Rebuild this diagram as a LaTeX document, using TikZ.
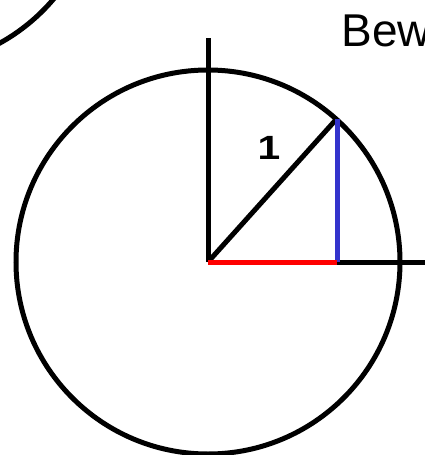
\documentclass[tikz,border=0pt]{standalone}
\usepackage{fontspec}
\setmainfont{Liberation Sans}
\definecolor{myblue}{RGB}{51,51,204}
\begin{document}
\begin{tikzpicture}[x=1pt,y=-1pt,line width=5pt,
  axisline/.style={draw=black},
  lbl/.style={inner sep=0pt,text=black}]
\useasboundingbox (0,0) rectangle (425,455);
\clip (0,0) rectangle (425,455);
\fill[white] (0,0) rectangle (425,455);
\coordinate (O) at (208,262);
\coordinate (P) at (337,118.5);
\coordinate (Q) at (337,262);
\coordinate (T) at (208,38);
\coordinate (R) at (432,262);
\coordinate (C2) at (-93,-125);
\draw[axisline] (C2) circle[radius=192pt];
\draw[axisline] (O) circle[radius=192pt];
\draw[axisline] (O) -- (T);
\draw[axisline] (O) -- (R);
\draw[axisline] (O) -- (P);
\draw[myblue] (P) -- (Q);
\draw[red] (O) -- (Q);
\node[lbl,xscale=1.7,yscale=1.4] (one) at (269,148) {\fontsize{24}{28}\selectfont\bfseries 1};
\node[lbl,anchor=base west] (bew) at (339,46) {\fontsize{46}{52}\selectfont Bew};
\end{tikzpicture}
\end{document}
